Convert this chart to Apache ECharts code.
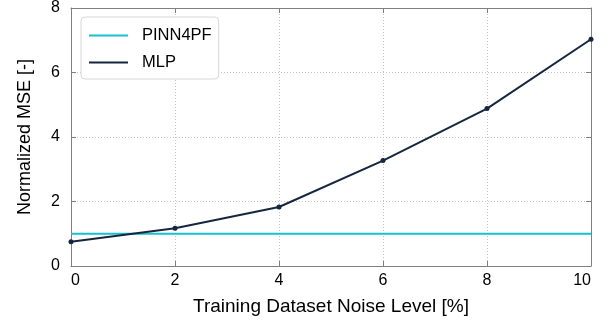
<!DOCTYPE html>
<html>
<head>
<meta charset="utf-8">
<script src="https://cdn.jsdelivr.net/npm/echarts@6/dist/echarts.min.js"></script>
<style>html,body{margin:0;padding:0;background:#fff;}#c{width:611px;height:326px;}</style>
</head>
<body>
<div id="c"></div>
<script>
var noiseLevels = [0, 2, 4, 6, 8, 10];
var mlpValues = [0.75, 1.17, 1.83, 3.27, 4.88, 7.03];
var pinnNoise = [0, 10];
var pinnValues = [1.0, 1.0];
var xTicks = [0, 2, 4, 6, 8, 10];
var yTicks = [0, 2, 4, 6, 8];

var font = 'Liberation Sans, Arial, sans-serif';
var axisGray = '#7f7f7f';
var chart = echarts.init(document.getElementById('c'));

function pairs(xs, ys) { return xs.map(function (x, i) { return [x, ys[i]]; }); }

var baseX = {
  type: 'value', min: xTicks[0], max: xTicks[xTicks.length - 1], interval: 2,
  axisLine: { show: true, onZero: false, lineStyle: { color: axisGray, width: 1 } },
  axisTick: { show: true, inside: true, length: 5, lineStyle: { color: axisGray } }
};
var baseY = {
  type: 'value', min: yTicks[0], max: yTicks[yTicks.length - 1], interval: 2,
  axisLine: { show: true, onZero: false, lineStyle: { color: axisGray, width: 1 } },
  axisTick: { show: true, inside: true, length: 5, lineStyle: { color: axisGray } }
};
var gridDots = { show: true, lineStyle: { color: '#c4c4c4', type: [1, 2], width: 1 } };

chart.setOption({
  animation: false,
  backgroundColor: '#fff',
  textStyle: { fontFamily: font },
  grid: { left: 71, right: 20, top: 8, bottom: 60, containLabel: false },
  legend: {
    orient: 'vertical', left: 81, top: 17,
    data: [{ name: 'PINN4PF', icon: 'rect' }, { name: 'MLP', icon: 'rect' }],
    itemWidth: 39, itemHeight: 2, itemGap: 10,
    padding: [10, 7, 8, 8],
    borderColor: '#d6d6d6', borderWidth: 1, borderRadius: 4,
    backgroundColor: '#fff',
    textStyle: { fontFamily: font, fontSize: 16.5, color: '#000', padding: [0, 0, 0, 9] }
  },
  xAxis: [
    Object.assign({}, baseX, {
      position: 'bottom',
      name: 'Training Dataset Noise Level [%]', nameLocation: 'middle', nameGap: 31,
      nameTextStyle: { fontFamily: font, fontSize: 19, color: '#000' },
      axisLabel: { fontFamily: font, fontSize: 16, color: '#000', margin: 7,
                   alignMinLabel: 'left', alignMaxLabel: 'right' },
      splitLine: gridDots
    }),
    Object.assign({}, baseX, {
      position: 'top', axisLabel: { show: false }, splitLine: { show: false }
    })
  ],
  yAxis: [
    Object.assign({}, baseY, {
      position: 'left',
      name: 'Normalized MSE [-]', nameLocation: 'middle', nameGap: 37, nameRotate: 90,
      nameTextStyle: { fontFamily: font, fontSize: 18, color: '#000' },
      axisLabel: { fontFamily: font, fontSize: 16, color: '#000', margin: 11 },
      splitLine: gridDots
    }),
    Object.assign({}, baseY, {
      position: 'right', axisLabel: { show: false }, splitLine: { show: false }
    })
  ],
  series: [
    {
      name: 'PINN4PF', type: 'line', data: pairs(pinnNoise, pinnValues),
      symbol: 'none', lineStyle: { color: '#17bfd0', width: 2 }, itemStyle: { color: '#17bfd0' }
    },
    {
      name: 'MLP', type: 'line', data: pairs(noiseLevels, mlpValues),
      symbol: 'circle', symbolSize: 5,
      lineStyle: { color: '#15263f', width: 2 }, itemStyle: { color: '#15263f' }
    }
  ]
});
</script>
</body>
</html>
